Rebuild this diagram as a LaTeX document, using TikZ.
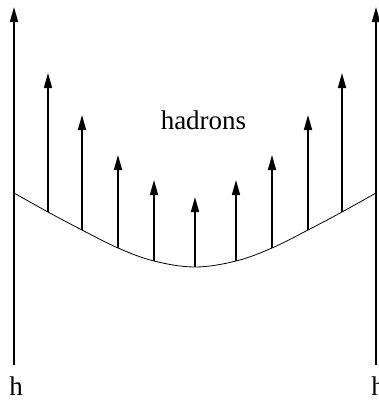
\documentclass[tikz,border=0pt]{standalone}
\usepackage{fontspec}
\setmainfont{Liberation Serif}
\usetikzlibrary{arrows.meta}
\begin{document}
\begin{tikzpicture}[x=1pt,y=-1pt,
  jet/.style={line width=1.6pt,-{Triangle[length=15pt,width=8pt]}},
  surf/.style={line width=0.8pt},
  lbl/.style={inner sep=0pt,anchor=base,font=\fontsize{27}{32}\selectfont}]
\useasboundingbox (0,0) rectangle (378,402);
% beam lines
\coordinate (lb) at (14,365); \coordinate (lt) at (14,7);
\coordinate (rb) at (376,365); \coordinate (rt) at (376,7);
\draw[jet] (lb) -- (lt);
\draw[jet] (rb) -- (rt);
% surface curve
\coordinate (c0) at (14,193);
\coordinate (b1) at (48,212);
\coordinate (b2) at (82,230);
\coordinate (b3) at (118,248);
\coordinate (b4) at (154,261);
\coordinate (b5) at (195,267);
\coordinate (b6) at (236,261);
\coordinate (b7) at (272,248);
\coordinate (b8) at (308,230);
\coordinate (b9) at (342,212);
\coordinate (c10) at (376,193);
\draw[surf] plot[smooth,tension=0.6] coordinates {(c0) (b1) (b2) (b3) (b4) (b5) (b6) (b7) (b8) (b9) (c10)};
% tips
\coordinate (t1) at (48,73);
\coordinate (t2) at (82,115);
\coordinate (t3) at (118,155);
\coordinate (t4) at (154,180);
\coordinate (t5) at (195,197);
\coordinate (t6) at (236,180);
\coordinate (t7) at (272,155);
\coordinate (t8) at (308,115);
\coordinate (t9) at (342,73);
\foreach \i in {1,...,9} \draw[jet] (b\i) -- (t\i);
% labels
\node[lbl] (had) at (203.5,129) {hadrons};
\node[lbl] (hl) at (16,395) {h};
\node[lbl] (hr) at (378,395) {h};
\end{tikzpicture}
\end{document}
